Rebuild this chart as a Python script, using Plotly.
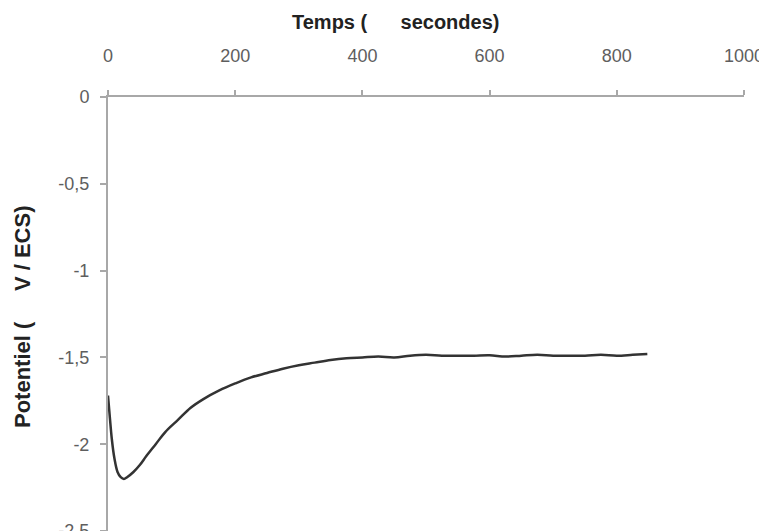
import plotly.graph_objects as go

temps = [0, 3, 6, 10, 15, 20, 25, 30, 40, 50, 60, 75, 90, 110, 130, 150, 175, 200,
         225, 250, 275, 300, 325, 350, 375, 400, 425, 450, 475, 500, 525, 550, 575,
         600, 625, 650, 675, 700, 725, 750, 775, 800, 825, 848]
potentiel = [-1.72, -1.85, -1.97, -2.08, -2.16, -2.19, -2.20, -2.19, -2.16, -2.12,
             -2.07, -2.00, -1.93, -1.86, -1.79, -1.74, -1.69, -1.65, -1.615, -1.59,
             -1.565, -1.545, -1.53, -1.515, -1.505, -1.50, -1.495, -1.50, -1.49,
             -1.485, -1.49, -1.49, -1.49, -1.488, -1.495, -1.49, -1.485, -1.49,
             -1.49, -1.49, -1.485, -1.49, -1.485, -1.48]

x_ticks = [0, 200, 400, 600, 800, 1000]
y_ticks = [0, -0.5, -1, -1.5, -2, -2.5]
y_tick_text = ["0", "-0,5", "-1", "-1,5", "-2", "-2,5"]

fig = go.Figure()
fig.add_trace(go.Scatter(x=temps, y=potentiel, mode="lines",
                         line=dict(color="#333333", width=2.5, shape="spline"),
                         showlegend=False))

axis_col = "#a8a8a8"
tick_font = dict(family="Liberation Sans, Arial, sans-serif", size=18, color="#5e5e5e")
title_font = dict(family="Liberation Sans, Arial, sans-serif", size=20,
                  color="#222222", weight="bold")

# page body has an 8px margin: figure occupies page x 8..767, y 8..531
W, H = 759, 523
L, T, R, B = 100, 89, 23, 0

fig.update_layout(
    width=W, height=H,
    margin=dict(l=L, r=R, t=T, b=B),
    paper_bgcolor="white", plot_bgcolor="white",
    xaxis=dict(side="top", range=[0, 1000], tickvals=x_ticks,
               showgrid=False, zeroline=False, showline=True, automargin=False,
               linecolor=axis_col, linewidth=2, ticks="outside",
               ticklen=5, tickwidth=1.5, tickcolor=axis_col,
               tickfont=tick_font, ticklabelstandoff=21,
               ticklabeloverflow="allow"),
    yaxis=dict(range=[-2.5, 0], tickvals=y_ticks, ticktext=y_tick_text,
               showgrid=False, zeroline=False, showline=True, automargin=False,
               linecolor=axis_col, linewidth=2, ticks="outside",
               ticklen=6, tickwidth=1.5, tickcolor=axis_col,
               tickfont=tick_font, ticklabelstandoff=7,
               ticklabeloverflow="allow"),
    annotations=[
        dict(text="Temps (      secondes)", xref="paper", yref="paper",
             x=(387 - L) / (W - L - R), xanchor="center",
             y=1, yanchor="middle", yshift=75, showarrow=False,
             font=title_font),
        dict(text="Potentiel (     V / ECS)", xref="paper", yref="paper",
             x=0, xanchor="center", xshift=-86,
             y=(H - 309) / (H - T), yanchor="middle", textangle=-90,
             showarrow=False, font=dict(title_font, size=22)),
    ],
)

fig.write_html("out.html")
